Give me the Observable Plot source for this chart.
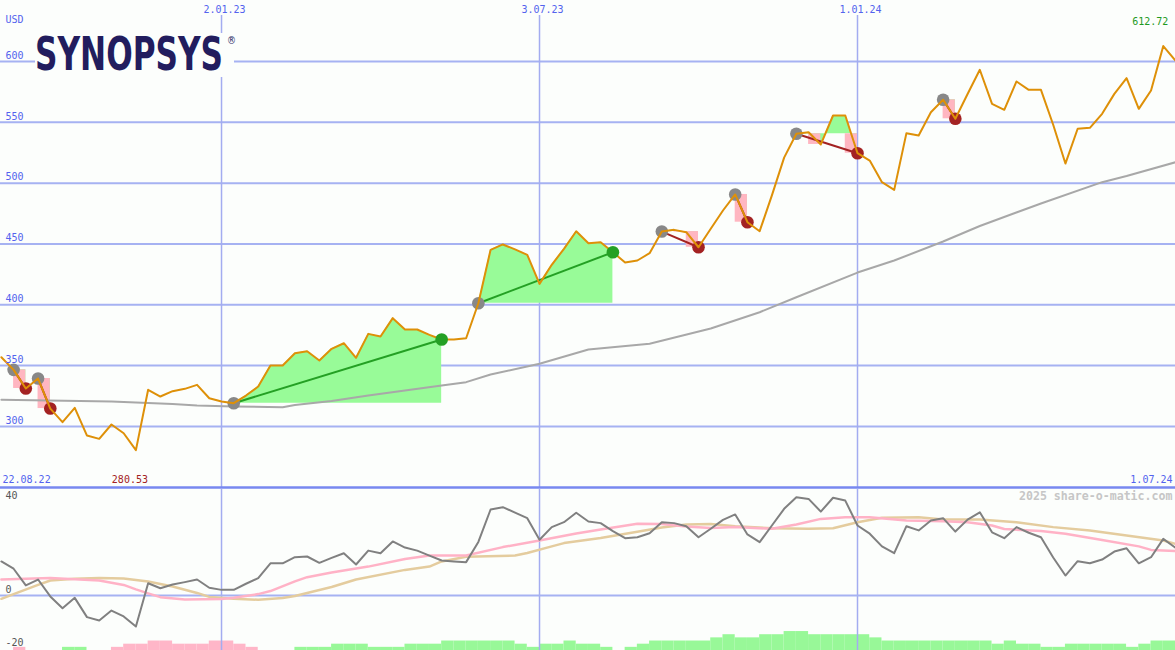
<!DOCTYPE html>
<html>
<head>
<meta charset="utf-8">
<script src="https://cdn.jsdelivr.net/npm/d3@7"></script>
<script src="https://cdn.jsdelivr.net/npm/@observablehq/plot@0.6"></script>
<style>
  html, body { margin: 0; padding: 0; background: #fcfefc; overflow: hidden; }
  #wrap { position: relative; width: 1175px; height: 650px; overflow: hidden; background: #fcfefc; }
  #logo { position: absolute; left: 35px; top: 33px; width: 199px; height: 44px; background: #fcfefc; }
</style>
</head>
<body>
<div id="wrap"></div>
<script>
// ---------- data (weekly, first week 2022-08-29) ----------
const firstWeek = "2022-08-29";
const prices = [
  356.9, 346.5, 331.2, 339.4, 314.7, 303.5, 315.3, 292.5, 289.8, 301.6, 294.4, 280.53, 330.1, 324.6, 329.0, 330.9, 334.2, 323.2,
  320.5, 319.1, 325.4, 332.8, 350.1, 350.1, 360.2, 361.8, 354.2, 363.8,
  368.4, 356.4, 376.1, 373.9, 389.0, 379.7, 379.7, 375.3, 371.5, 371.5,
  372.5, 401.3, 445.2, 449.6, 445.6, 441.1, 417.2, 432.9, 446.0, 460.5,
  450.6, 451.4, 443.2, 434.8, 436.4, 442.4, 460.2, 461.6, 459.7, 447.3,
  462.5, 477.5, 490.7, 467.9, 460.5, 490.0, 521.0, 540.6, 541.9, 531.8,
  555.6, 555.6, 524.6, 518.6, 500.8, 494.5, 541.1, 539.2, 558.3, 568.5,
  552.9, 573.3, 593.2, 565.2, 560.3, 583.6, 576.7, 576.7, 548.0, 516.1,
  544.7, 545.5, 557.0, 573.4, 586.3, 561.1, 576.2, 612.72, 600.8
];
// long moving average: [week index, value]
const movingAvg = [
  [0, 321.9], [9, 320.5], [14, 318.4], [16, 317.2], [19, 316.4], [23, 315.8], [24, 317.6], [27, 320.9],
  [30, 325.4], [33, 329.5], [36, 333.6], [38, 336.4], [40, 342.7], [44, 351.5], [48, 363.2], [53, 367.9],
  [58, 380.5], [62, 393.9], [65, 406.2], [70, 426.5], [73, 436.4], [77, 452.0], [80, 464.8], [85, 483.3],
  [90, 500.8], [92, 505.9], [96, 517.2]
];
// signals: week index of entry and exit
const signalEntry = [1, 3, 19, 39, 54, 60, 65, 77];
const signalExit  = [2, 4, 36, 50, 57, 61, 70, 78];

// lower panel oscillator
const momentum = [
  14.5, 11.4, 4.3, 6.8, -0.4, -5.4, -1.0, -9.2, -10.6, -6.4, -8.9, -13.2, 5.2, 3.1, 4.7, 5.7, 6.8, 3.3,
  2.4, 2.4, 5.0, 7.4, 13.7, 13.7, 16.3, 16.6, 13.9, 16.0,
  18.0, 13.2, 19.1, 18.0, 23.0, 20.4, 19.1, 17.0, 14.9, 14.5,
  14.2, 22.8, 36.6, 37.6, 35.3, 32.9, 23.7, 29.1, 31.2, 35.2,
  31.5, 30.8, 27.4, 24.4, 24.8, 26.5, 31.2, 30.8, 29.5, 24.8,
  28.4, 32.2, 34.5, 26.0, 22.7, 29.8, 36.9, 41.8, 41.1, 35.7,
  41.6, 40.4, 29.8, 26.3, 20.9, 18.0, 29.5, 27.7, 31.9, 32.9,
  27.2, 32.3, 35.4, 26.9, 24.4, 29.1, 26.7, 24.8, 16.2, 8.5,
  14.6, 13.7, 15.3, 18.7, 20.1, 13.7, 16.3, 24.1, 20.3
];
const pinkSignal = [
  [0, 6.8], [4, 7.4], [8, 6.4], [10, 4.5], [11, 2.6], [12, 0.9], [13, -0.7], [15, -1.7], [18, -1.5], [19, -1.0],
  [21, 0.6], [22, 1.9], [24, 6.0], [25, 7.8], [27, 9.8], [30, 12.3], [33, 15.5], [35, 17.0], [38, 17.0], [41, 20.6],
  [44, 23.4], [47, 26.4], [49, 28.1], [52, 30.5], [54, 30.4], [56, 29.4], [58, 28.7], [60, 29.1], [63, 28.4], [65, 30.2],
  [67, 32.6], [69, 33.3], [71, 33.3], [74, 31.9], [77, 31.6], [79, 31.2], [81, 29.8], [82, 28.3], [85, 27.4], [87, 26.3],
  [90, 23.6], [93, 20.9], [94, 19.4], [96, 18.9]
];
const tanSignal = [
  [0, -1.4], [1, 0.6], [3, 4.5], [4, 6.4], [6, 7.1], [8, 7.5], [10, 7.2], [12, 6.0], [14, 3.8], [16, 1.1],
  [17, -0.6], [19, -1.4], [21, -1.8], [23, -1.1], [24, -0.2], [27, 3.6], [29, 6.8], [33, 10.9], [35, 12.3], [36, 14.5],
  [38, 16.5], [42, 17.0], [43, 18.1], [45, 20.9], [46, 22.3], [49, 24.5], [52, 27.1], [54, 28.9], [56, 30.2], [58, 30.4],
  [60, 29.5], [63, 28.6], [66, 28.4], [68, 28.6], [70, 31.2], [72, 33.1], [75, 33.3], [77, 32.3], [80, 32.3], [83, 31.2],
  [86, 29.1], [89, 27.7], [92, 25.5], [95, 23.4], [96, 22.0]
];
// histogram at the bottom: + green, - pink
const trendBars = [
  0, -1, 0, 0, 0, 1, 1, 0, 0, -1, -2, -2, -3, -3, -2, -2, -2, -3,
  -3, -2, -1, 0, 0, 0, 1, 1, 1, 2,
  2, 2, 1, 1, 1, 2, 2, 2, 3, 3,
  3, 3, 3, 3, 2, 1, 2, 2, 3, 2,
  2, 1, 0, 1, 2, 3, 3, 3, 3, 3,
  4, 5, 4, 4, 5, 5, 6, 6, 5, 5,
  5, 5, 5, 4, 3, 3, 3, 3, 3, 3,
  3, 3, 3, 2, 3, 2, 2, 1, 1, 2,
  2, 2, 2, 2, 1, 2, 3, 3, 3
];

const priceGrid = [300, 350, 400, 450, 500, 550, 600];
const dateTicks = ["2023-01-02", "2023-07-03", "2024-01-01"];
const dateTickLabels = ["2.01.23", "3.07.23", "1.01.24"];
const startLabel = "22.08.22";
const endLabel = "1.07.24";
const unitLabel = "USD";
const oscTicks = [40, 0];
const oscTicksLow = [-20];
const watermark = "2025 share-o-matic.com";
const brand = "SYNOPSYS";

// ---------- helpers ----------
const DAY = 864e5;
const t0 = new Date(firstWeek + "T00:00:00Z").getTime();
const wk = i => new Date(t0 + i * 7 * DAY);
const weeks = prices.map((_, i) => wk(i));
const xDomain = [new Date("2022-08-28T12:00:00Z"), new Date("2024-07-01T00:00:00Z")];
const ticks = dateTicks.map((d, i) => ({date: new Date(d + "T00:00:00Z"), label: dateTickLabels[i]}));
const mono = "DejaVu Sans Mono, Liberation Mono, monospace";
const blue = "#5363ee";
const W = 1175;
const txt = {fontSize: 10, fontFamily: mono, lineAnchor: "middle"};

const series = prices.map((p, i) => ({date: weeks[i], price: p}));
const maRows = movingAvg.map(([i, v]) => ({date: wk(i), v}));
const events = signalEntry.map((s, j) => ({s, e: signalExit[j], gain: prices[signalExit[j]] > prices[s]}));
const areaRows = events.flatMap((ev, j) => d3.range(ev.s, ev.e + 1).map(i => ({ev: j, date: weeks[i], base: prices[ev.s], price: prices[i]})));
const lossRects = events.flatMap(ev => d3.range(ev.s + 1, ev.e + 1)
  .filter(i => prices[i] < prices[ev.s])
  .map(i => ({x1: weeks[i - 1], x2: weeks[i], y1: prices[i], y2: prices[ev.s]})));
const minI = d3.minIndex(prices), maxI = d3.maxIndex(prices);

const green = "#24a024", red = "#a32222";

const wrap = document.getElementById("wrap");

function place(svg, top) {
  svg.style.position = "absolute";
  svg.style.left = "0px";
  svg.style.top = top + "px";
  svg.style.background = "transparent";
  svg.style.maxWidth = "none";
  wrap.appendChild(svg);
}

// ---------- main panel ----------
const main = Plot.plot({
  width: W, height: 489, marginTop: 0, marginBottom: 2, marginLeft: 0, marginRight: 0,
  x: {type: "utc", domain: xDomain, axis: null},
  y: {domain: [249.8, 650.15], axis: null},
  marks: [
    Plot.ruleY(priceGrid, {stroke: "#a6b2f2", strokeWidth: 2}),
    Plot.ruleX(ticks, {x: "date", stroke: "#a3acf0", strokeWidth: 1.5, insetTop: 15}),
    Plot.frame({anchor: "bottom", stroke: "#7888f0", strokeWidth: 2.5}),
    Plot.areaY(areaRows, {x: "date", y1: "base", y2: "price", z: "ev", fill: "#98fb98", curve: "linear"}),
    Plot.rect(lossRects, {x1: "x1", x2: "x2", y1: "y1", y2: "y2", fill: "#ffb6c1"}),
    Plot.line(maRows, {x: "date", y: "v", stroke: "#a8a8a8", strokeWidth: 2}),
    Plot.link(events, {x1: d => weeks[d.s], y1: d => prices[d.s], x2: d => weeks[d.e], y2: d => prices[d.e],
      stroke: d => d.gain ? green : red, strokeWidth: 2}),
    Plot.dot(events, {x: d => weeks[d.s], y: d => prices[d.s], r: 6.3, fill: "#888888"}),
    Plot.dot(events.filter(d => !d.gain), {x: d => weeks[d.e], y: d => prices[d.e], r: 6.3, fill: red}),
    Plot.line(series, {x: "date", y: "price", stroke: "#de9008", strokeWidth: 2}),
    Plot.dot(events.filter(d => d.gain), {x: d => weeks[d.e], y: d => prices[d.e], r: 6.3, fill: green}),
    Plot.text(priceGrid, {...txt, y: d => d, text: d => String(d), frameAnchor: "left", dx: 5, dy: -6, textAnchor: "start", fill: blue}),
    Plot.text(ticks, {...txt, x: "date", text: "label", frameAnchor: "top", dy: 9, dx: 3, fill: blue}),
    Plot.text([unitLabel], {...txt, text: d => d, frameAnchor: "top-left", dx: 5, dy: 19, textAnchor: "start", fill: blue}),
    Plot.text([startLabel], {...txt, text: d => d, frameAnchor: "bottom-left", dx: 2, dy: -8, textAnchor: "start", fill: blue}),
    Plot.text([endLabel], {...txt, text: d => d, frameAnchor: "bottom-right", dx: -3, dy: -8, textAnchor: "end", fill: blue}),
    Plot.text([minI], {...txt, x: i => weeks[i], text: i => prices[i].toFixed(2), frameAnchor: "bottom", dy: -8, dx: -6, fill: red}),
    Plot.text([maxI], {...txt, x: i => weeks[i], text: i => prices[i].toFixed(2), frameAnchor: "top", dy: 21, dx: -13, fill: "#1f9a1f"})
  ]
});
place(main, 0);

// ---------- histogram strip ----------
const barRows = trendBars.map((v, i) => ({x1: wk(i), x2: wk(i + 1), v: Math.abs(v), pos: v > 0})).filter(d => d.v > 0);
const bars = Plot.plot({
  width: W, height: 30, marginTop: 0, marginBottom: 0, marginLeft: 0, marginRight: 0,
  x: {type: "utc", domain: xDomain, axis: null},
  y: {domain: [0, 9.5], axis: null},
  marks: [
    Plot.rectY(barRows, {x1: "x1", x2: "x2", y: "v", fill: d => d.pos ? "#98f898" : "#ffb6c8", clip: true})
  ]
});
place(bars, 620);

// ---------- oscillator panel ----------
const momRows = momentum.map((v, i) => ({date: weeks[i], v}));
const pinkRows = pinkSignal.map(([i, v]) => ({date: wk(i), v}));
const tanRows = tanSignal.map(([i, v]) => ({date: wk(i), v}));
const osc = Plot.plot({
  width: W, height: 163, marginTop: 0, marginBottom: 0, marginLeft: 0, marginRight: 0,
  x: {type: "utc", domain: xDomain, axis: null},
  y: {domain: [-23.4, 45.96], axis: null},
  marks: [
    Plot.ruleX(ticks, {x: "date", stroke: "#a3acf0", strokeWidth: 1.5, insetTop: 2}),
    Plot.ruleY([0], {stroke: "#a6b2f2", strokeWidth: 2}),
    Plot.line(tanRows, {x: "date", y: "v", stroke: "#e4cc9e", strokeWidth: 2.5}),
    Plot.line(pinkRows, {x: "date", y: "v", stroke: "#ffb2c6", strokeWidth: 2.5}),
    Plot.line(momRows, {x: "date", y: "v", stroke: "#808080", strokeWidth: 2}),
    Plot.text(oscTicks, {...txt, y: d => d, text: d => String(d), frameAnchor: "left", dx: 5, dy: -6, textAnchor: "start", fill: "#555"}),
    Plot.text(oscTicksLow, {...txt, y: d => d, text: d => String(d), frameAnchor: "left", dx: 5, dy: 0, textAnchor: "start", fill: "#555"}),
    Plot.text([watermark], {...txt, text: d => d, frameAnchor: "top-right", dx: -3, dy: 9, textAnchor: "end", fill: "#c6c6c6", fontWeight: "bold", fontSize: 11.6})
  ]
});
place(osc, 487);

// ---------- logo ----------
const logo = document.createElement("div");
logo.id = "logo";
logo.innerHTML = `<svg width="205" height="46" style="overflow:visible">
  <g transform="scale(1,1.1)">
    <text x="0" y="33.6" fill="#221d5e" font-family="Liberation Sans Narrow, DejaVu Sans Condensed, Arial Narrow, sans-serif"
      font-weight="bold" font-size="42"><tspan textLength="188" lengthAdjust="spacingAndGlyphs">${brand}</tspan><tspan
      dx="4" dy="-24" font-size="9" font-weight="normal" font-family="DejaVu Sans, sans-serif">®</tspan></text>
  </g>
</svg>`;
wrap.appendChild(logo);
</script>
</body>
</html>
